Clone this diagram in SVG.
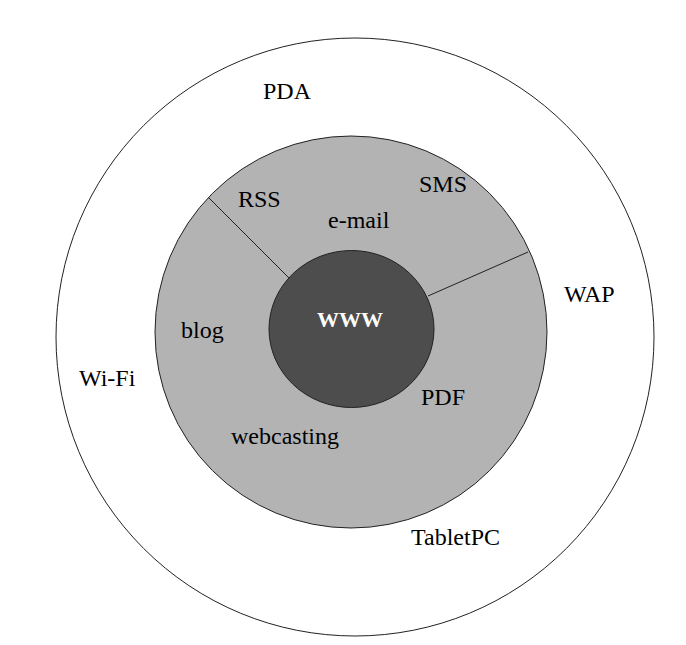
<svg xmlns="http://www.w3.org/2000/svg" width="686" height="645" viewBox="0 0 686 645">
<style>
.lbl{font-family:"Liberation Serif","Times New Roman",serif;font-size:24px;fill:#000}
.core{font-family:"Liberation Serif","Times New Roman",serif;font-size:22px;font-weight:bold;fill:#fff}
.ring{stroke:#222;stroke-width:1}
</style>
<rect width="686" height="645" fill="#fff"/>
<g id="outer">
<circle class="ring" cx="355" cy="337" r="299" fill="#fff"/>
<text class="lbl" x="263" y="99">PDA</text>
<text class="lbl" x="564" y="302">WAP</text>
<text class="lbl" x="79" y="386">Wi-Fi</text>
<text class="lbl" x="411" y="545">TabletPC</text>
</g>
<g id="middle">
<circle class="ring" cx="351" cy="332" r="196" fill="#b3b3b3"/>
<text class="lbl" x="238" y="207">RSS</text>
<text class="lbl" x="419" y="192">SMS</text>
<text class="lbl" x="328" y="228">e-mail</text>
<text class="lbl" x="181" y="338">blog</text>
<text class="lbl" x="231" y="444">webcasting</text>
<text class="lbl" x="421" y="405">PDF</text>
</g>
<g id="connectors">
<line class="ring" x1="208" y1="197" x2="289" y2="278"/>
<line class="ring" x1="528" y1="252" x2="428" y2="296"/>
</g>
<g id="core">
<ellipse class="ring" cx="351.5" cy="329" rx="82.5" ry="78.5" fill="#4d4d4d"/>
<text class="core" x="350" y="327" text-anchor="middle">WWW</text>
</g>
</svg>
